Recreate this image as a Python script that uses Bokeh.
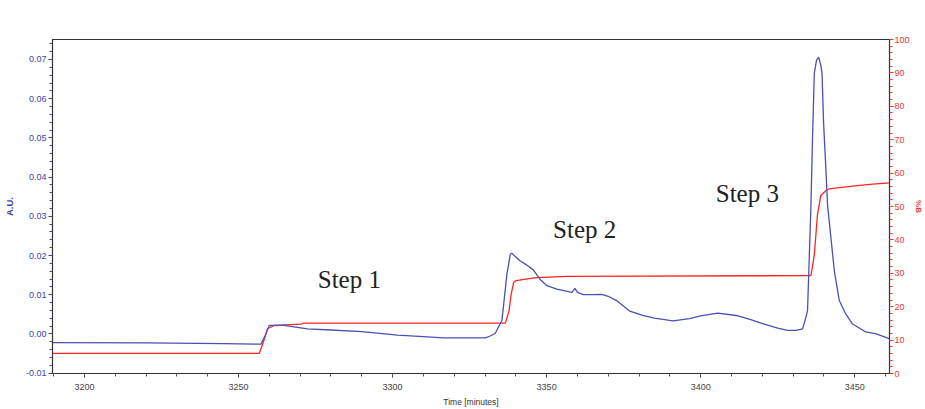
from bokeh.plotting import figure
from bokeh.models import (Range1d, LinearAxis, SingleIntervalTicker, NumeralTickFormatter,
                          ColumnDataSource)
from bokeh.core.properties import value
from bokeh.embed import file_html
from bokeh.resources import INLINE

# ---- data ----
blue_time = [3189.6, 3220, 3245, 3257.3, 3258.6, 3260.0, 3264.7, 3272.4, 3280, 3290, 3301.6, 3310,
             3316.5, 3330.1, 3331.5, 3333.3, 3335.5, 3337.1, 3338.2, 3338.7, 3339.5, 3341.4, 3343.5,
             3345.6, 3347.9, 3350.1, 3353.3, 3358.2, 3359.2, 3360.0, 3361.9, 3365, 3367.9, 3370,
             3372.7, 3377.0, 3381.2, 3385, 3391.0, 3396.4, 3400, 3405.6, 3411.5, 3416, 3420.1,
             3425, 3428.2, 3431, 3433.1, 3434.2, 3434.7, 3435.8, 3436.3, 3436.9, 3437.6, 3438.3,
             3439.0, 3439.4, 3439.9, 3440.7, 3441.2, 3442.3, 3443.4, 3445.0, 3447.1, 3449.2,
             3453.6, 3457, 3461.2]
blue_au = [-0.0022, -0.0023, -0.0025, -0.0026, -0.0005, 0.0022, 0.0022, 0.0013, 0.0010, 0.0006,
           -0.0003, -0.0007, -0.0010, -0.0010, -0.0006, 0.0001, 0.0035, 0.0152, 0.0203, 0.0206,
           0.0200, 0.0186, 0.0176, 0.0164, 0.0139, 0.0123, 0.0114, 0.0106, 0.0116, 0.0106, 0.0100,
           0.0100, 0.0101, 0.0096, 0.0085, 0.0058, 0.0047, 0.0040, 0.0033, 0.0039, 0.0046, 0.0053,
           0.0047, 0.0037, 0.0026, 0.0015, 0.0009, 0.0009, 0.0013, 0.0043, 0.0060, 0.0328, 0.0496,
           0.0665, 0.0698, 0.0706, 0.0685, 0.0664, 0.0539, 0.0413, 0.0328, 0.0244, 0.0161, 0.0085,
           0.0051, 0.0026, 0.0005, 0.0000, -0.0012]

red_time = [3189.6, 3256.7, 3258.1, 3259.4, 3261.6, 3270.5, 3270.8, 3336.6, 3337.8, 3338.5,
            3339.3, 3339.8, 3342.5, 3346.8, 3356.5, 3435.8, 3436.9, 3437.9, 3439.0, 3440.7,
            3441.7, 3450, 3456.8, 3461.2]
red_pct = [6.0, 6.0, 9.5, 13.4, 14.4, 14.8, 15.1, 15.1, 18.8, 23.8, 27.2, 27.7, 28.2, 28.7, 29.1,
           29.3, 35.6, 47.4, 53.3, 54.8, 55.3, 56.2, 56.8, 57.1]

step_text = ["Step 1", "Step 2", "Step 3"]
step_time = [3275.7, 3352.1, 3404.9]
step_au = [0.0139, 0.0267, 0.0358]

x_ticks_interval = 50
left_axis_label = "A.U."
right_axis_label = "%B"
x_axis_label = "Time [minutes]"

BLUE = "#4b50b4"
RED = "#ff2424"
AXIS_BLUE = "#3c44a8"
AXIS_RED = "#ee3a2e"

p = figure(width=925, height=409, output_backend="svg", toolbar_location=None,
           x_range=Range1d(3189.6, 3461.3), y_range=Range1d(-0.0101, 0.0751),
           min_border_left=51, min_border_right=30, min_border_top=39, min_border_bottom=32,
           background_fill_color="white", border_fill_color="white")
p.extra_y_ranges = {"pct": Range1d(0, 100)}
p.xgrid.visible = False
p.ygrid.visible = False
p.outline_line_color = "#333333"
p.outline_line_width = 1.2

# bottom axis
xa = p.xaxis[0]
xa.ticker = SingleIntervalTicker(interval=x_ticks_interval, num_minor_ticks=5)
xa.axis_label = x_axis_label
xa.axis_label_text_font = "Liberation Sans"
xa.axis_label_text_font_size = "8.5px"
xa.axis_label_text_font_style = "normal"
xa.axis_label_text_color = "#333333"
xa.axis_label_standoff = 4
xa.major_label_text_font = "Liberation Sans"
xa.major_label_text_font_size = "9px"
xa.major_label_text_color = "#444444"
xa.major_label_standoff = 6
xa.axis_line_color = "#333333"
xa.major_tick_line_color = "#333333"
xa.minor_tick_line_color = "#555555"
xa.major_tick_out = 4
xa.major_tick_in = 0
xa.minor_tick_out = 3
xa.minor_tick_in = 0

# left axis
ya = p.yaxis[0]
ya.ticker = SingleIntervalTicker(interval=0.01, num_minor_ticks=5)
ya.formatter = NumeralTickFormatter(format="0.00")
ya.axis_label = left_axis_label
ya.axis_label_text_font = "Liberation Sans"
ya.axis_label_text_font_size = "9.5px"
ya.axis_label_text_font_style = "bold"
ya.axis_label_text_color = AXIS_BLUE
ya.axis_label_standoff = 8
ya.major_label_text_font = "Liberation Sans"
ya.major_label_text_font_size = "9px"
ya.major_label_text_color = AXIS_BLUE
ya.major_label_standoff = 2
ya.axis_line_color = "#333333"
ya.major_tick_line_color = AXIS_BLUE
ya.minor_tick_line_color = AXIS_BLUE
ya.major_tick_out = 4
ya.major_tick_in = 0
ya.minor_tick_out = 3
ya.minor_tick_in = 0

# right axis
ra = LinearAxis(y_range_name="pct",
                ticker=SingleIntervalTicker(interval=10, num_minor_ticks=5))
ra.axis_label = right_axis_label
ra.axis_label_text_font = "Liberation Sans"
ra.axis_label_text_font_size = "8px"
ra.axis_label_text_font_style = "bold"
ra.axis_label_text_color = AXIS_RED
ra.axis_label_standoff = 1
ra.major_label_text_font = "Liberation Sans"
ra.major_label_text_font_size = "9px"
ra.major_label_text_color = AXIS_RED
ra.major_label_standoff = 1
ra.axis_line_color = "#333333"
ra.major_tick_line_color = AXIS_RED
ra.minor_tick_line_color = AXIS_RED
ra.major_tick_out = 4
ra.major_tick_in = 0
ra.minor_tick_out = 3
ra.minor_tick_in = 0
p.add_layout(ra, "right")

# curves
p.line(red_time, red_pct, y_range_name="pct", line_color=RED, line_width=1.3)
p.line(blue_time, blue_au, line_color=BLUE, line_width=1.3)

# step annotations
src = ColumnDataSource(dict(x=step_time, y=step_au, t=step_text))
p.text(x="x", y="y", text="t", source=src, text_font=value("Liberation Serif"),
       text_font_size="25px", text_color="#222222", text_baseline="alphabetic",
       text_align="left")

open("out.html", "w").write(file_html(p, INLINE))
